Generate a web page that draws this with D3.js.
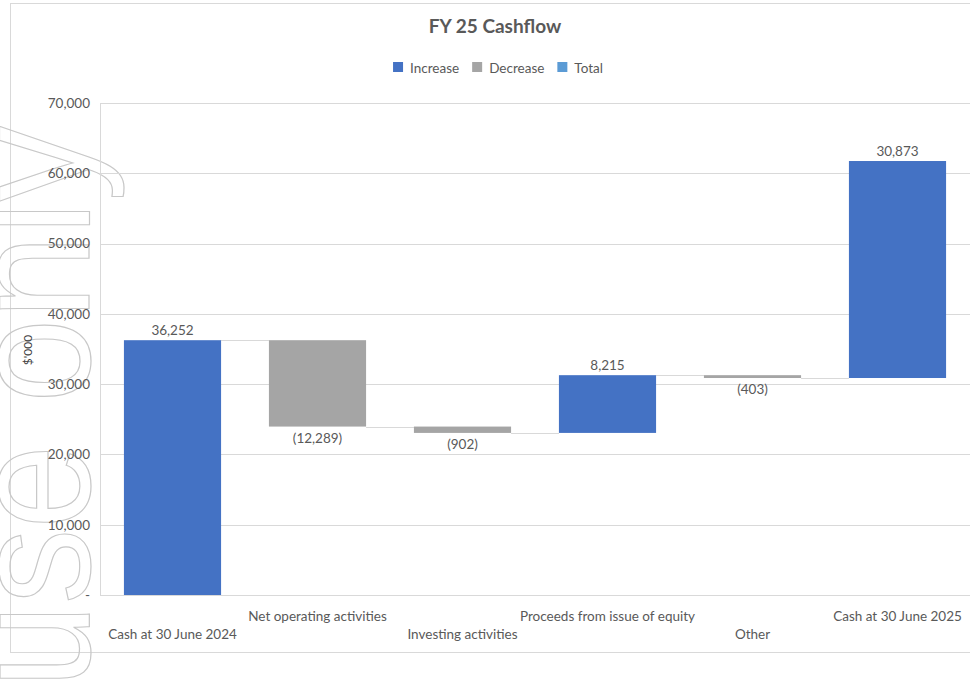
<!doctype html>
<html>
    <head>
        <script src="https://d3js.org/d3.v7.min.js"></script>
        <style>
            body,
            html {
                margin: 0;
                padding: 0;
                overflow: hidden;
                background: #fff;
            }
            text {
                font-family: Lato, "Noto Sans", sans-serif;
            }
        </style>
    </head>
    <body>
        <script>
            const categories = [
                "Cash at 30 June 2024",
                "Net operating activities",
                "Investing activities",
                "Proceeds from issue of equity",
                "Other",
                "Cash at 30 June 2025",
            ];
            const values = [36252, -12289, -902, 8215, -403, 30873];
            const kinds = ["increase", "decrease", "decrease", "increase", "decrease", "increase"];
            const yTicks = [0, 10000, 20000, 30000, 40000, 50000, 60000, 70000];
            const legendItems = ["Increase", "Decrease", "Total"];

            const width = 970;
            const height = 683;
            const plot = { left: 100, right: 970, top: 103, bottom: 595 };

            const svg = d3
                .create("svg")
                .attr("width", width)
                .attr("height", height)
                .attr("viewBox", [0, 0, width, height]);
            document.body.appendChild(svg.node());

            const colors = d3
                .scaleOrdinal()
                .domain(["increase", "decrease", "total"])
                .range(["#4472C4", "#A5A5A5", "#5B9BD5"]);

            // chart frame
            svg.append("rect")
                .attr("x", 10.5)
                .attr("y", 3.5)
                .attr("width", 970)
                .attr("height", 649)
                .attr("fill", "none")
                .attr("stroke", "#d9d9d9");

            // watermark (behind everything else)
            svg.append("text")
                .attr("transform", "translate(89,688) rotate(-90)")
                .attr("fill", "none")
                .attr("stroke", "#c8c8c8")
                .attr("stroke-width", 1.2)
                .style("font-family", "Liberation Sans, Arial, sans-serif")
                .style("font-size", "168px")
                .attr("textLength", 562)
                .attr("lengthAdjust", "spacingAndGlyphs")
                .text("use only");

            const x = d3
                .scaleBand()
                .domain(categories)
                .range([plot.left, plot.right])
                .paddingInner(0.33)
                .paddingOuter(0.165);

            const y = d3
                .scaleLinear()
                .domain([0, 70000])
                .range([plot.bottom, plot.top]);

            // running totals
            let run = 0;
            const bars = categories.map((c, i) => {
                const v = values[i];
                const start = run;
                run += v;
                return {
                    cat: c,
                    value: v,
                    kind: kinds[i],
                    lo: Math.min(start, run),
                    hi: Math.max(start, run),
                    end: run,
                    index: i,
                };
            });

            // gridlines
            svg.append("g")
                .attr("transform", `translate(${plot.left},0)`)
                .call(
                    d3.axisLeft(y)
                        .tickValues(yTicks)
                        .tickSize(-(plot.right - plot.left))
                        .tickFormat("")
                )
                .call((g) => g.select(".domain").remove())
                .call((g) =>
                    g.selectAll("line").attr("stroke", "#d9d9d9").attr("shape-rendering", "crispEdges")
                );

            // y axis
            const fmt = d3.format(",");
            svg.append("g")
                .attr("transform", `translate(${plot.left},0)`)
                .call(
                    d3.axisLeft(y)
                        .tickValues(yTicks)
                        .tickSize(0)
                        .tickPadding(10)
                        .tickFormat((d) => (d === 0 ? "-" : fmt(d)))
                )
                .call((g) => g.select(".domain").attr("stroke", "#d9d9d9").attr("shape-rendering", "crispEdges"))
                .call((g) =>
                    g.selectAll("text")
                        .attr("fill", "#595959")
                        .style("font-size", "13.5px")
                        .style("font-family", "Lato, sans-serif")
                );

            // connectors
            svg.append("g")
                .selectAll("line")
                .data(bars.slice(0, -1))
                .join("line")
                .attr("x1", (d) => x(d.cat) + x.bandwidth())
                .attr("x2", (d) => x(categories[d.index + 1]))
                .attr("y1", (d) => Math.round(y(d.end)) + 0.5)
                .attr("y2", (d) => Math.round(y(d.end)) + 0.5)
                .attr("stroke", "#d9d9d9");

            // bars
            svg.append("g")
                .selectAll("rect")
                .data(bars)
                .join("rect")
                .attr("x", (d) => x(d.cat))
                .attr("width", x.bandwidth())
                .attr("y", (d) => y(d.hi))
                .attr("height", (d) => Math.max(y(d.lo) - y(d.hi), 1))
                .attr("fill", (d) => colors(d.kind));

            // value labels
            svg.append("g")
                .selectAll("text")
                .data(bars)
                .join("text")
                .attr("x", (d) => x(d.cat) + x.bandwidth() / 2)
                .attr("y", (d) => (d.value >= 0 ? y(d.hi) - 5 : y(d.lo) + 16))
                .attr("text-anchor", "middle")
                .attr("fill", "#595959")
                .style("font-size", "13.5px")
                .text((d) => (d.value < 0 ? `(${fmt(-d.value)})` : fmt(d.value)));

            // category labels, staggered
            svg.append("g")
                .selectAll("text")
                .data(categories)
                .join("text")
                .attr("x", (d) => x(d) + x.bandwidth() / 2)
                .attr("y", (d, i) => (i % 2 === 0 ? 639 : 621))
                .attr("text-anchor", "middle")
                .attr("fill", "#595959")
                .style("font-size", "13.5px")
                .text((d) => d);

            // y title
            svg.append("text")
                .attr("transform", "translate(32,350) rotate(-90)")
                .attr("text-anchor", "middle")
                .attr("fill", "#404040")
                .style("font-size", "12px")
                .text("$'000");

            // title
            svg.append("text")
                .attr("x", 495)
                .attr("y", 33)
                .attr("text-anchor", "middle")
                .attr("fill", "#595959")
                .style("font-size", "19px")
                .style("font-weight", "bold")
                .text("FY 25 Cashflow");

            // legend
            const legend = svg.append("g");
            let lx = 0;
            legendItems.forEach((name, i) => {
                const item = legend.append("g").attr("transform", `translate(${lx},0)`);
                item.append("rect")
                    .attr("x", 0)
                    .attr("y", 62)
                    .attr("width", 10)
                    .attr("height", 10)
                    .attr("fill", colors.range()[i]);
                const t = item.append("text")
                    .attr("x", 17)
                    .attr("y", 73)
                    .attr("fill", "#595959")
                    .style("font-size", "13.5px")
                    .text(name);
                lx += 17 + t.node().getComputedTextLength() + 13;
            });
            const lw = lx - 13;
            legend.attr("transform", `translate(${498 - lw / 2},0)`);
        </script>
    </body>
</html>
